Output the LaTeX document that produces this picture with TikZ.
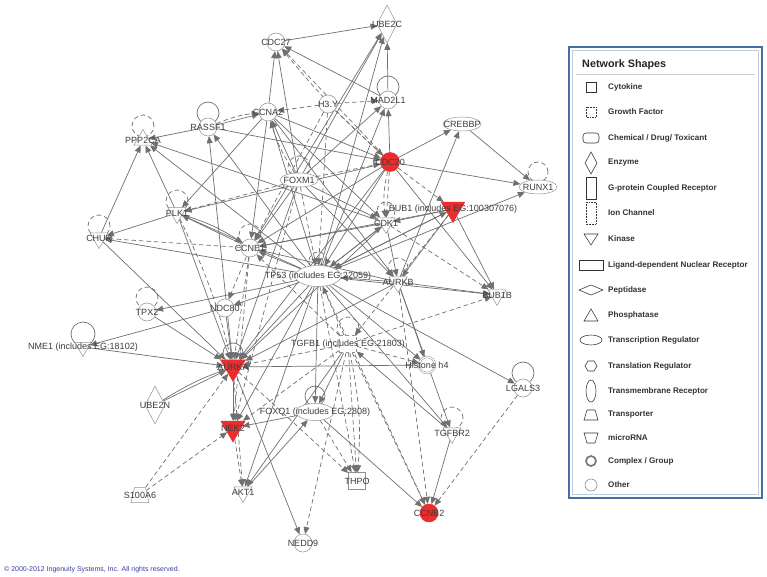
\documentclass[tikz,border=0pt]{standalone}
\usepackage{fontspec}
\setmainfont{Liberation Sans}
\usetikzlibrary{shapes.geometric,arrows.meta,backgrounds}
\definecolor{edgegray}{RGB}{112,112,112}
\definecolor{shapegray}{RGB}{145,145,145}
\definecolor{labelgray}{RGB}{60,60,60}
\definecolor{hitred}{RGB}{236,45,45}
\definecolor{legendblue}{RGB}{70,110,160}
\definecolor{copyblue}{RGB}{60,60,165}

\tikzset{
  gene/.style={draw=shapegray, fill=white, inner sep=0pt, line width=0.5pt},
  other/.style={gene, circle, minimum size=18pt},
  hit/.style={fill=hitred, draw=hitred},
  kinase/.style={gene, regular polygon, regular polygon sides=3, shape border rotate=180, minimum size=21pt},
  phos/.style={gene, regular polygon, regular polygon sides=3, minimum size=21pt},
  treg/.style={gene, ellipse, minimum width=38pt, minimum height=14pt},
  enzyme/.style={gene, diamond, aspect=0.5, minimum width=20pt, minimum height=38pt},
  cytok/.style={gene, rectangle, minimum size=17pt},
  growth/.style={gene, rectangle, dashed, minimum size=17pt},
  transp/.style={gene, trapezium, trapezium angle=72, trapezium stretches=true, inner sep=2pt, minimum width=18pt, minimum height=15pt},
  complex/.style={gene, circle, double=white, double distance=1.2pt, minimum size=16pt},
  lbl/.style={font=\fontsize{9}{10}\selectfont, text=labelgray, inner sep=0pt},
  rel/.style={->, draw=edgegray, line width=0.7pt},
  relx/.style={rel, dash pattern=on 4.5pt off 3pt},
  selfloop/.style={draw=edgegray, line width=0.7pt},
  selfloopx/.style={selfloop, dash pattern=on 4.5pt off 3pt},
  legicon/.style={draw=black!80, line width=0.55pt},
  legtext/.style={anchor=west, font=\bfseries\fontsize{8.1}{9}\selectfont, text=black!80, inner sep=0pt}
}

\begin{document}
\begin{tikzpicture}[x=1pt, y=-1pt, >={Triangle[length=7pt,width=6pt]}]
\useasboundingbox (0,0) rectangle (767,577);

% genes
\node[enzyme, label={[lbl]center:UBE2C}] (ube2c) at (387,24) {};
\node[other, label={[lbl]center:CDC27}] (cdc27) at (276,42) {};
\node[other, label={[lbl]center:MAD2L1}] (mad2l1) at (388,100) {};
\node[other, label={[lbl]center:H3.Y}] (h3y) at (328,104) {};
\node[other, label={[lbl]center:CCNA2}] (ccna2) at (268,112) {};
\node[other, label={[lbl]center:RASSF1}] (rassf1) at (208,127) {};
\node[phos, label={[lbl]center:PPP2CA}] (ppp2ca) at (143,140) {};
\node[treg, label={[lbl]center:CREBBP}] (crebbp) at (462,124) {};
\node[other, hit, minimum size=19pt, label={[lbl]center:CDC20}] (cdc20) at (390,162) {};
\node[treg, label={[lbl]center:RUNX1}] (runx1) at (538,187) {};
\node[treg, label={[lbl]center:FOXM1}] (foxm1) at (299,180) {};
\node[kinase, label={[lbl]center:PLK1}] (plk1) at (177,213) {};
\node[kinase, label={[lbl]center:CDK1}] (cdk1) at (386,223) {};
\node[kinase, hit, minimum size=27pt, label={[lbl]center:{BUB1 (includes EG:100307076)}}] (bub1) at (453,209) {};
\node[kinase, label={[lbl]center:CHUK}] (chuk) at (99,238) {};
\node[other, label={[lbl]center:CCNE1}] (ccne1) at (250,248) {};
\node[treg, minimum width=46pt, minimum height=21pt, label={[lbl]center:{TP53 (includes EG:22059)}}] (tp53) at (318,276) {};
\node[kinase, label={[lbl]center:AURKB}] (aurkb) at (398,282) {};
\node[kinase, label={[lbl]center:BUB1B}] (bub1b) at (497,295) {};
\node[other, label={[lbl]center:TPX2}] (tpx2) at (147,312) {};
\node[other, label={[lbl]center:NDC80}] (ndc80) at (225,308) {};
\node[kinase, minimum size=19pt, label={[lbl]center:{NME1 (includes EG:18102)}}] (nme1) at (83,347) {};
\node[growth, label={[lbl]center:{TGFB1 (includes EG:21803)}}] (tgfb1) at (348,344) {};
\node[complex, label={[lbl]center:Histone h4}] (hist4) at (427,365) {};
\node[other, label={[lbl]center:LGALS3}] (lgals3) at (523,388) {};
\node[kinase, hit, minimum size=29pt, label={[lbl]center:AURKA}] (aurka) at (233,367) {};
\node[enzyme, label={[lbl]center:UBE2N}] (ube2n) at (155,405) {};
\node[treg, minimum height=17pt, label={[lbl]center:{FOXQ1 (includes EG:2808)}}] (foxq1) at (315,412) {};
\node[kinase, hit, minimum size=28pt, label={[lbl]center:NEK2}] (nek2) at (233,428) {};
\node[kinase, label={[lbl]center:TGFBR2}] (tgfbr2) at (452,433) {};
\node[kinase, label={[lbl]center:AKT1}] (akt1) at (243,492) {};
\node[transp, label={[lbl]center:S100A6}] (s100a6) at (140,495) {};
\node[cytok, label={[lbl]center:THPO}] (thpo) at (357,481) {};
\node[other, hit, minimum size=18pt, label={[lbl]center:CCNB2}] (ccnb2) at (429,513) {};
\node[other, label={[lbl]center:NEDD9}] (nedd9) at (303,543) {};

\begin{pgfonlayer}{background}
\fill[white] (0,0) rectangle (767,577);
% self relations
\draw[selfloop] (rassf1) ++(0,-14) circle[radius=11pt];
\draw[selfloopx] (ppp2ca) ++(0,-14) circle[radius=11pt];
\draw[selfloop] (mad2l1) ++(0,-13) circle[radius=11pt];
\draw[selfloopx] (runx1) ++(0,-15) circle[radius=10pt];
\draw[selfloopx] (foxm1) ++(0,-13) circle[radius=11pt];
\draw[selfloopx] (plk1) ++(0,-12) circle[radius=11pt];
\draw[selfloopx] (chuk) ++(0,-12) circle[radius=11pt];
\draw[selfloopx] (ccne1) ++(0,-13) circle[radius=11pt];
\draw[selfloopx] (cdk1) ++(0,-12) circle[radius=9pt];
\draw[selfloopx] (aurkb) ++(0,-14) circle[radius=10pt];
\draw[selfloopx] (tp53) ++(0,-15) circle[radius=9pt];
\draw[selfloopx] (tpx2) ++(0,-14) circle[radius=11pt];
\draw[selfloop] (nme1) ++(0,-13) circle[radius=12pt];
\draw[selfloopx] (tgfb1) ++(0,-16) circle[radius=11pt];
\draw[selfloop] (lgals3) ++(0,-15) circle[radius=11pt];
\draw[selfloop] (aurka) ++(0,-14) circle[radius=10pt];
\draw[selfloop] (foxq1) ++(0,-16) circle[radius=10pt];
\draw[selfloopx] (tgfbr2) ++(0,-15) circle[radius=11pt];

% relations
\draw[rel] (cdc27) -- (ube2c);
\draw[rel] (mad2l1) -- (ube2c);
\draw[rel] (foxm1) -- (ube2c);
\draw[rel] (ccne1) -- (ube2c);
\draw[rel] (tp53) -- (ube2c);
\draw[rel] (ccna2) -- (cdc27);
\draw[rel] (mad2l1) -- (cdc27);
\draw[rel] (foxm1) -- (cdc27);
\draw[relx] (cdc20) -- (cdc27);
\draw[relx] (cdc20) to[bend left=4] (cdc27);
\draw[relx] (h3y) -- (mad2l1);
\draw[relx] (h3y) -- (ccna2);
\draw[relx] (h3y) -- (cdc20);
\draw[relx] (h3y) -- (ccne1);
\draw[relx] (h3y) -- (tp53);
\draw[rel] (rassf1) -- (ccna2);
\draw[relx] (rassf1) to[bend left=8] (ccna2);
\draw[rel] (rassf1) -- (ppp2ca);
\draw[rel] (rassf1) -- (cdc20);
\draw[rel] (aurka) -- (rassf1);
\draw[rel] (tp53) -- (rassf1);
\draw[rel] (plk1) -- (ppp2ca);
\draw[rel] (chuk) -- (ppp2ca);
\draw[rel] (cdk1) -- (ppp2ca);
\draw[rel] (tp53) -- (ppp2ca);
\draw[rel] (ccna2) -- (plk1);
\draw[rel] (ccna2) -- (ccne1);
\draw[rel] (foxm1) -- (ccna2);
\draw[relx] (foxm1) to[bend left=8] (ccna2);
\draw[rel] (ccna2) -- (cdc20);
\draw[rel] (ccna2) -- (cdk1);
\draw[rel] (ccna2) -- (aurkb);
\draw[rel] (tp53) -- (ccna2);
\draw[rel] (foxm1) -- (mad2l1);
\draw[relx] (foxm1) -- (cdc20);
\draw[relx] (foxm1) -- (plk1);
\draw[rel] (foxm1) -- (ccne1);
\draw[rel] (foxm1) -- (cdk1);
\draw[rel] (foxm1) -- (aurkb);
\draw[rel] (foxm1) -- (aurka);
\draw[relx] (foxm1) -- (tp53);
\draw[relx] (foxm1) -- (nek2);
\draw[rel] (cdc20) -- (mad2l1);
\draw[rel] (tp53) -- (mad2l1);
\draw[rel] (cdc20) -- (runx1);
\draw[rel] (cdc20) -- (crebbp);
\draw[rel] (crebbp) -- (runx1);
\draw[relx] (cdc20) -- (bub1);
\draw[relx] (cdc20) -- (cdk1);
\draw[relx] (cdc20) to[bend right=10] (cdk1);
\draw[rel] (cdc20) -- (bub1b);
\draw[rel] (cdc20) -- (ccne1);
\draw[rel] (cdc20) -- (aurka);
\draw[rel] (cdc20) -- (plk1);
\draw[rel] (cdc20) -- (tp53);
\draw[rel] (aurkb) -- (crebbp);
\draw[rel] (tp53) -- (runx1);
\draw[rel] (bub1) -- (bub1b);
\draw[rel] (bub1) -- (aurkb);
\draw[rel] (bub1) -- (tp53);
\draw[rel] (bub1) -- (ccne1);
\draw[rel] (bub1) -- (cdk1);
\draw[relx] (bub1) -- (tgfb1);
\draw[rel] (tp53) -- (bub1);
\draw[relx] (cdk1) -- (bub1b);
\draw[rel] (cdk1) -- (ccne1);
\draw[rel] (cdk1) -- (tp53);
\draw[rel] (cdk1) -- (aurka);
\draw[rel] (cdk1) -- (aurkb);
\draw[rel] (tp53) -- (cdk1);
\draw[rel] (aurkb) -- (bub1b);
\draw[rel] (aurkb) -- (tp53);
\draw[rel] (aurkb) -- (hist4);
\draw[rel] (aurkb) -- (tgfbr2);
\draw[rel] (aurkb) -- (ccne1);
\draw[rel] (aurkb) -- (aurka);
\draw[relx] (aurkb) -- (ccnb2);
\draw[relx] (tgfb1) -- (bub1b);
\draw[relx] (tgfb1) -- (hist4);
\draw[relx] (tgfb1) -- (tp53);
\draw[relx] (tgfb1) -- (ccne1);
\draw[relx] (tgfb1) -- (aurka);
\draw[relx] (tgfb1) -- (nek2);
\draw[relx] (tgfb1) -- (thpo);
\draw[relx] (tgfb1) to[bend left=8] (thpo);
\draw[relx] (tgfb1) -- (ccnb2);
\draw[relx] (tgfb1) -- (nedd9);
\draw[rel] (tgfb1) -- (akt1);
\draw[rel] (tgfb1) -- (foxq1);
\draw[rel] (tgfbr2) -- (tgfb1);
\draw[rel] (tp53) -- (lgals3);
\draw[relx] (lgals3) -- (ccnb2);
\draw[rel] (tgfbr2) -- (ccnb2);
\draw[rel] (foxq1) -- (ccnb2);
\draw[relx] (tp53) -- (ccnb2);
\draw[rel] (tp53) -- (tgfbr2);
\draw[rel] (tp53) -- (hist4);
\draw[rel] (tp53) -- (bub1b);
\draw[rel] (tp53) -- (foxq1);
\draw[relx] (tp53) -- (thpo);
\draw[rel] (tp53) -- (akt1);
\draw[rel] (tp53) -- (nek2);
\draw[rel] (tp53) -- (aurka);
\draw[rel] (tp53) -- (ndc80);
\draw[rel] (tp53) -- (tpx2);
\draw[rel] (tp53) -- (chuk);
\draw[rel] (tp53) -- (ccne1);
\draw[rel] (tp53) -- (plk1);
\draw[relx] (foxq1) -- (thpo);
\draw[rel] (foxq1) -- (nek2);
\draw[rel] (akt1) -- (foxq1);
\draw[rel] (hist4) -- (aurka);
\draw[rel] (aurka) -- (nek2);
\draw[relx] (aurka) -- (akt1);
\draw[relx] (nek2) -- (akt1);
\draw[relx] (aurka) -- (thpo);
\draw[rel] (aurka) -- (nedd9);
\draw[relx] (s100a6) -- (aurka);
\draw[relx] (s100a6) -- (nek2);
\draw[rel] (ube2n) -- (aurka);
\draw[rel] (ube2n) to[bend left=6] (aurka);
\draw[rel] (nme1) -- (aurka);
\draw[rel] (ndc80) -- (nme1);
\draw[rel] (tpx2) -- (aurka);
\draw[rel] (ndc80) -- (aurka);
\draw[rel] (chuk) -- (aurka);
\draw[rel] (plk1) -- (chuk);
\draw[relx] (ccne1) -- (chuk);
\draw[rel] (plk1) -- (aurka);
\draw[relx] (plk1) to[bend left=6] (aurka);
\draw[rel] (ccne1) -- (plk1);
\draw[rel] (plk1) to[bend left=8] (ccne1);
\draw[relx] (ccne1) -- (aurka);
\draw[relx] (ccne1) -- (nek2);
\draw[relx] (ccne1) -- (ndc80);
\end{pgfonlayer}

% legend
\draw[legendblue, line width=1.3pt] (569,47) rectangle (762,498);
\draw[legendblue!35, line width=0.6pt] (572.5,50.5) rectangle (758.5,494.5);
\node[anchor=west, font=\bfseries\fontsize{10.8}{12}\selectfont, text=black!85, inner sep=0pt] (legtitle) at (582,65) {Network Shapes};
\draw[black!20, line width=0.6pt] (576,74) -- (755,74);
\foreach \y/\t in {87/Cytokine, 112/Growth Factor, 138/{Chemical / Drug/ Toxicant}, 163/Enzyme,
  188/G-protein Coupled Receptor, 213/Ion Channel, 239/Kinase, 265/Ligand-dependent Nuclear Receptor,
  290/Peptidase, 315/Phosphatase, 340/Transcription Regulator, 366/Translation  Regulator,
  391/Transmembrane  Receptor, 415/Transporter, 438/microRNA, 461/{Complex / Group}, 485/Other}
  \node[legtext] (leg\y) at (608,\y) {\t};
\draw[legicon] (586,82) rectangle (596,92);
\draw[legicon, densely dotted] (586,107) rectangle (596,117);
\draw[legicon, rounded corners=3pt] (583,133) rectangle (599,143);
\draw[legicon] (591,152) -- (597,163) -- (591,174) -- (585,163) -- cycle;
\draw[legicon] (586,177) rectangle (596,199);
\draw[legicon, densely dotted] (586,202) rectangle (596,224);
\draw[legicon] (584,234) -- (598,234) -- (591,245) -- cycle;
\draw[legicon] (579,260) rectangle (603,270);
\draw[legicon] (579,290) -- (591,285) -- (603,290) -- (591,295) -- cycle;
\draw[legicon] (584,321) -- (598,321) -- (591,309) -- cycle;
\draw[legicon] (591,340) ellipse[x radius=11pt, y radius=5pt];
\draw[legicon] (585,366) -- (588,361) -- (594,361) -- (597,366) -- (594,371) -- (588,371) -- cycle;
\draw[legicon] (591,391) ellipse[x radius=5pt, y radius=11pt];
\draw[legicon] (584,420) -- (587,410) -- (595,410) -- (598,420) -- cycle;
\draw[legicon] (584,433) -- (598,433) -- (595,443) -- (587,443) -- cycle;
\draw[black!55, line width=1.6pt] (591,461) circle[radius=5pt];
\draw[legicon, black!50] (591,485) circle[radius=6pt];

\node[anchor=west, text=copyblue, font=\fontsize{7}{8}\selectfont, inner sep=0pt] (copyr) at (4,570) {© 2000-2012 Ingenuity Systems, Inc. All rights reserved.};
\end{tikzpicture}
\end{document}
